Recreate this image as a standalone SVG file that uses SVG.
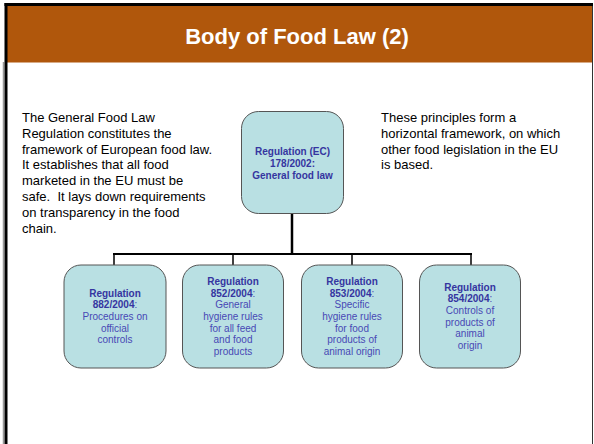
<svg xmlns="http://www.w3.org/2000/svg" width="594" height="444" viewBox="0 0 594 444">
<style>
.node rect{fill:#B9E0E3;stroke:#555;stroke-width:1}
.b{font-family:"Liberation Sans",Arial,sans-serif;font-size:10px;font-weight:bold;fill:#3535A0;text-anchor:middle}
.n{font-family:"Liberation Sans",Arial,sans-serif;font-size:10px;fill:#4848B5;text-anchor:middle}
.body{font-family:"Liberation Sans",Arial,sans-serif;font-size:13px;fill:#000}
.conn line{stroke:#000}
</style>
<rect x="0" y="0" width="594" height="444" fill="#fff"/>
<rect x="7" y="6" width="585" height="56.5" fill="#B0570C"/>
<line x1="3.5" y1="62" x2="3.5" y2="444" stroke="#999" stroke-width="1.5"/>
<line x1="6" y1="3" x2="6" y2="444" stroke="#000" stroke-width="3"/>
<line x1="4.5" y1="4.5" x2="593" y2="4.5" stroke="#000" stroke-width="3"/>
<line x1="592.5" y1="6" x2="592.5" y2="444" stroke="#333" stroke-width="1"/>
<text x="297" y="44" font-family="'Liberation Sans',Arial,sans-serif" font-size="22" font-weight="bold" fill="#fff" text-anchor="middle">Body of Food Law (2)</text>

<g class="body">
<text x="22" y="122">The General Food Law</text>
<text x="22" y="137.8">Regulation constitutes the</text>
<text x="22" y="153.6">framework of European food law.</text>
<text x="22" y="169.4">It establishes that all food</text>
<text x="22" y="185.2">marketed in the EU must be</text>
<text x="22" y="201" xml:space="preserve">safe.  It lays down requirements</text>
<text x="22" y="216.8">on transparency in the food</text>
<text x="22" y="232.6">chain.</text>
</g>
<g class="body">
<text x="381" y="122">These principles form a</text>
<text x="381" y="137.8">horizontal framework, on which</text>
<text x="381" y="153.6">other food legislation in the EU</text>
<text x="381" y="169.4">is based.</text>
</g>

<g class="conn">
<line x1="292" y1="214" x2="292" y2="254" stroke-width="2.5"/>
<line x1="113" y1="254" x2="472" y2="254" stroke-width="2"/>
<line x1="114" y1="254" x2="114" y2="265" stroke-width="1.5"/>
<line x1="233" y1="254" x2="233" y2="265" stroke-width="1.5"/>
<line x1="352" y1="254" x2="352" y2="265" stroke-width="1.5"/>
<line x1="471" y1="254" x2="471" y2="265" stroke-width="1.5"/>
</g>

<g id="node-gfl" class="node">
<rect x="241.5" y="111.5" width="102" height="102" rx="17"/>
<text class="b" x="292.5" y="155">Regulation (EC)</text>
<text class="b" x="292.5" y="167">178/2002:</text>
<text class="b" x="292.5" y="179">General food law</text>
</g>

<g id="node-882" class="node">
<rect x="64" y="265" width="102" height="103" rx="17"/>
<text class="b" x="115" y="296.5">Regulation</text>
<text x="115" y="308.2" class="b"><tspan>882/2004</tspan><tspan font-weight="normal" fill="#4848B5">:</tspan></text>
<text class="n" x="115" y="319.9">Procedures on</text>
<text class="n" x="115" y="331.6">official</text>
<text class="n" x="115" y="343.3">controls</text>
</g>

<g id="node-852" class="node">
<rect x="182.5" y="265" width="101" height="103" rx="17"/>
<text class="b" x="233" y="284.8">Regulation</text>
<text x="233" y="296.5" class="b"><tspan>852/2004</tspan><tspan font-weight="normal" fill="#4848B5">:</tspan></text>
<text class="n" x="233" y="308.2">General</text>
<text class="n" x="233" y="319.9">hygiene rules</text>
<text class="n" x="233" y="331.6">for all feed</text>
<text class="n" x="233" y="343.3">and food</text>
<text class="n" x="233" y="355">products</text>
</g>

<g id="node-853" class="node">
<rect x="301.5" y="265" width="101" height="103" rx="17"/>
<text class="b" x="352" y="284.8">Regulation</text>
<text x="352" y="296.5" class="b"><tspan>853/2004</tspan><tspan font-weight="normal" fill="#4848B5">:</tspan></text>
<text class="n" x="352" y="308.2">Specific</text>
<text class="n" x="352" y="319.9">hygiene rules</text>
<text class="n" x="352" y="331.6">for food</text>
<text class="n" x="352" y="343.3">products of</text>
<text class="n" x="352" y="355">animal origin</text>
</g>

<g id="node-854" class="node">
<rect x="419.5" y="265" width="101" height="103" rx="17"/>
<text class="b" x="470" y="290.5">Regulation</text>
<text x="470" y="302.2" class="b"><tspan>854/2004</tspan><tspan font-weight="normal" fill="#4848B5">:</tspan></text>
<text class="n" x="470" y="313.9">Controls of</text>
<text class="n" x="470" y="325.6">products of</text>
<text class="n" x="470" y="337.3">animal</text>
<text class="n" x="470" y="349">origin</text>
</g>
</svg>
